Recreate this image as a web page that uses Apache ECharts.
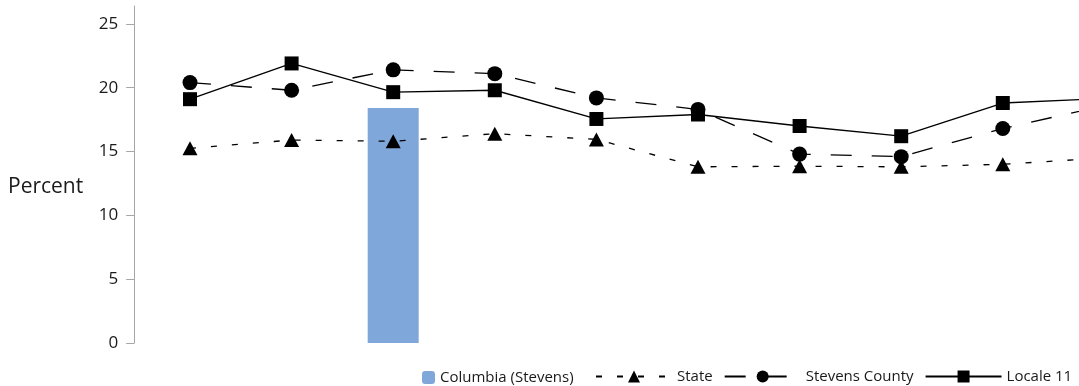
<!DOCTYPE html>
<html>
<head>
<meta charset="utf-8">
<script src="https://cdn.jsdelivr.net/npm/echarts@6/dist/echarts.min.js"></script>
<style>
html,body{margin:0;padding:0;background:#fff;}
#chart{width:1079px;height:386px;}
</style>
</head>
<body>
<div id="chart"></div>
<script>
var categories = ['1','2','3','4','5','6','7','8','9','10','11'];
var columbia = [null, null, 18.4, null, null, null, null, null, null, null, null];
var state = [15.25, 15.9, 15.8, 16.4, 15.95, 13.8, 13.85, 13.8, 14.0, 14.5, 14.6];
var stevens = [20.4, 19.8, 21.4, 21.1, 19.2, 18.3, 14.8, 14.6, 16.8, 18.6, 19.0];
var locale = [19.1, 21.9, 19.65, 19.8, 17.55, 17.9, 17.0, 16.2, 18.8, 19.15, 19.3];
var yTicks = [0, 5, 10, 15, 20, 25];

// pair each value with its category position on the x scale
function pairs(arr) {
  return categories.map(function (c, i) { return [i, arr[i]]; });
}

var FONT = '"Open Sans", "Noto Sans", sans-serif';
var chart = echarts.init(document.getElementById('chart'), null, {renderer: 'canvas'});
chart.setOption({
  animation: false,
  backgroundColor: '#ffffff',
  title: {
    text: 'Percent', left: 8, top: 177, padding: 0,
    textStyle: {fontFamily: FONT, fontSize: 21, fontWeight: 'normal', color: '#1a1a1a'}
  },
  grid: {left: 139.2, top: 6, right: 0, bottom: 43, containLabel: false},
  xAxis: {
    type: 'value', min: -0.5, max: 8.75,
    axisLine: {show: false}, axisTick: {show: false}, axisLabel: {show: false}, splitLine: {show: false}
  },
  yAxis: {
    type: 'value', min: 0, max: 26.4, offset: 5,
    axisLine: {show: true, onZero: false, lineStyle: {color: '#a6a6a6', width: 1}},
    axisTick: {show: true, length: 8, customValues: yTicks, lineStyle: {color: '#a6a6a6'}},
    axisLabel: {customValues: yTicks, margin: 16, fontFamily: FONT, fontSize: 17, color: '#1a1a1a'},
    splitLine: {show: false}
  },
  legend: [{
    data: ['Columbia (Stevens)'],
    left: 417, top: 365, itemWidth: 13, itemHeight: 13, itemGap: 12,
    textStyle: {fontFamily: FONT, fontSize: 15, color: '#1a1a1a'}
  }, {
    data: ['State', 'Stevens County', 'Locale 11'],
    left: 590, top: 364, width: 600, itemWidth: 76, itemHeight: 15, itemGap: 11,
    textStyle: {fontFamily: FONT, fontSize: 15, color: '#1a1a1a'}
  }],
  series: [{
    name: 'Columbia (Stevens)', type: 'bar', data: pairs(columbia), barWidth: 51,
    itemStyle: {color: '#7fa7d9'}, z: 1
  }, {
    name: 'State', type: 'line', data: pairs(state), symbol: 'triangle', symbolSize: [15, 14],
    itemStyle: {color: '#000'}, lineStyle: {color: '#000', width: 1.3, type: [6, 15]}, z: 3
  }, {
    name: 'Stevens County', type: 'line', data: pairs(stevens), symbol: 'circle', symbolSize: 15,
    itemStyle: {color: '#000'}, lineStyle: {color: '#000', width: 1.3, type: [21, 20]}, z: 3
  }, {
    name: 'Locale 11', type: 'line', data: pairs(locale), symbol: 'rect', symbolSize: 14,
    itemStyle: {color: '#000'}, lineStyle: {color: '#000', width: 1.3, type: 'solid'}, z: 3
  }]
});
</script>
</body>
</html>
